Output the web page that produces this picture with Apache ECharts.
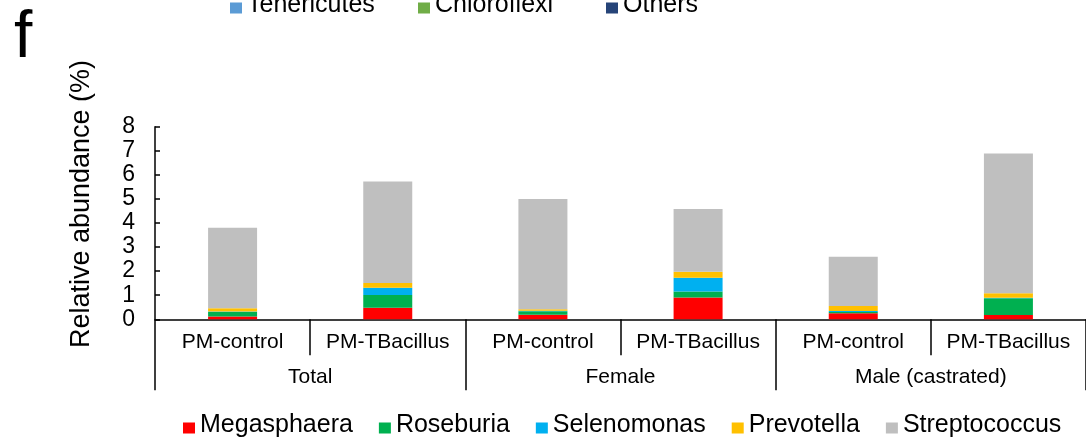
<!DOCTYPE html>
<html>
<head>
<meta charset="utf-8">
<script src="https://cdn.jsdelivr.net/npm/echarts@6/dist/echarts.min.js"></script>
<style>
  html, body { margin: 0; padding: 0; background: #fff; }
  #main { width: 1086px; height: 438px; }
</style>
</head>
<body>
<div id="main"></div>
<script>
// sub categories (first level) and groups (second level)
var categories = ['PM-control', 'PM-TBacillus', 'PM-control', 'PM-TBacillus', 'PM-control', 'PM-TBacillus'];
var groups = ['Total', 'Female', 'Male (castrated)'];
var yTicks = [0, 8, 1]; // min, max, interval

// relative abundance (%) per genus
var megasphaera   = [0.12, 0.48, 0.19, 0.91, 0.25, 0.18];
var roseburia     = [0.18, 0.53, 0.14, 0.24, 0.05, 0.69];
var selenomonas   = [0.02, 0.30, 0.02, 0.58, 0.04, 0.02];
var prevotella    = [0.14, 0.20, 0.07, 0.25, 0.21, 0.19];
var streptococcus = [3.34, 4.21, 4.58, 2.60, 2.05, 5.81];

// legend of the panel above (only its lower half is visible)
var topLegendNames = ['Tenericutes', 'Chloroflexi', 'Others'];

var font = "'Liberation Sans', Arial, sans-serif";
// square sitting low in a 22px icon box (tiny dots keep the box size), lines up with the text baseline
var lowIcon = 'path://M0,0L0.01,0L0.01,0.01Z M0,21.99L0.01,21.99L0.01,22Z M0,8L12,8L12,19L0,19Z';

var chart = echarts.init(document.getElementById('main'));

function bar(name, data, color) {
  return {
    name: name,
    type: 'bar',
    stack: 'total',
    xAxisIndex: 0,
    barWidth: 49,
    data: data,
    itemStyle: { color: color },
    emphasis: { disabled: true }
  };
}

function legend(names, left, top, gap) {
  return {
    data: names,
    left: left,
    top: top,
    padding: 0,
    itemWidth: 12,
    itemHeight: 22,
    itemGap: gap,
    icon: lowIcon,
    textStyle: { fontFamily: font, fontSize: 25, color: '#000' }
  };
}

var option = {
  animation: false,
  backgroundColor: '#fff',
  textStyle: { fontFamily: font, color: '#000' },
  title: {
    text: 'f',
    left: 14,
    top: 6,
    padding: 0,
    textStyle: { fontFamily: font, fontSize: 66, fontWeight: 'normal', color: '#000' }
  },
  legend: [
    legend(['Megasphaera', 'Roseburia', 'Selenomonas', 'Prevotella', 'Streptococcus'], 183, 413, 26),
    legend([topLegendNames[0]], 230, -7, 0),
    legend([topLegendNames[1]], 418, -7, 0),
    legend([topLegendNames[2]], 606, -7, 0)
  ],
  grid: { left: 155, top: 126.7, width: 935, bottom: 118.7 },
  xAxis: [{
    type: 'category',
    data: categories,
    position: 'bottom',
    axisLine: { lineStyle: { color: '#000', width: 1.5 } },
    axisTick: { show: true, interval: 0, length: 36, lineStyle: { color: '#000', width: 1.5 } },
    axisLabel: { interval: 0, margin: 12, fontSize: 21, color: '#000', fontFamily: font }
  }, {
    type: 'category',
    data: groups,
    position: 'bottom',
    axisLine: { show: false },
    axisTick: { show: true, interval: 0, length: 71, lineStyle: { color: '#000', width: 1.5 } },
    axisLabel: { interval: 0, margin: 47, fontSize: 21, color: '#000', fontFamily: font }
  }],
  yAxis: {
    type: 'value',
    min: yTicks[0],
    max: yTicks[1],
    interval: yTicks[2],
    name: 'Relative abundance (%)',
    nameLocation: 'middle',
    nameGap: 60,
    nameTextStyle: { fontFamily: font, fontSize: 27, color: '#000', padding: [0, 0, 0, 38] },
    axisLine: { show: true, lineStyle: { color: '#000', width: 1.5 } },
    axisTick: { show: true, inside: true, length: 5, lineStyle: { color: '#000', width: 1.5 } },
    axisLabel: { margin: 20, fontSize: 23, color: '#000', fontFamily: font },
    splitLine: { show: false }
  },
  series: [
    bar('Megasphaera', megasphaera, '#FF0000'),
    bar('Roseburia', roseburia, '#00B050'),
    bar('Selenomonas', selenomonas, '#00B0F0'),
    bar('Prevotella', prevotella, '#FFC000'),
    bar('Streptococcus', streptococcus, '#BFBFBF'),
    bar('Tenericutes', [], '#5B9BD5'),
    bar('Chloroflexi', [], '#70AD47'),
    bar('Others', [], '#264478')
  ]
};

chart.setOption(option);
</script>
</body>
</html>
